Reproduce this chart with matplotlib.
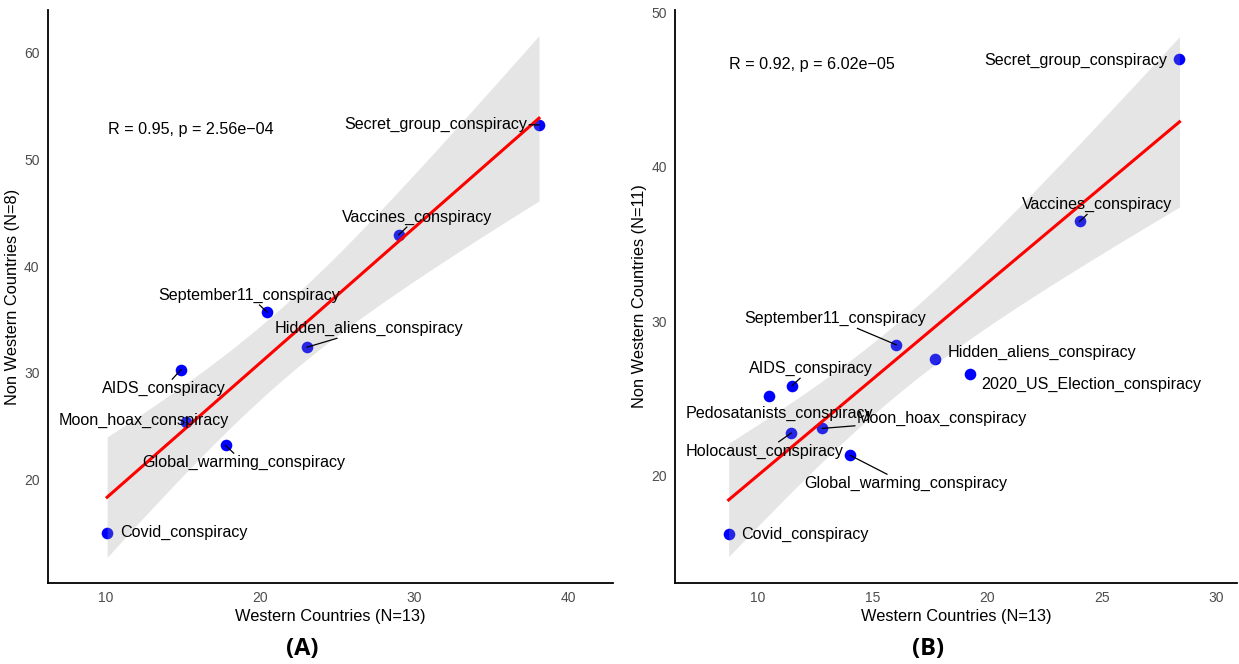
import matplotlib
matplotlib.use('Agg')
import matplotlib.pyplot as plt
import numpy as np

plt.rcParams['font.family'] = ['Liberation Sans', 'DejaVu Sans']

# Panel A data: Western (N=13) vs Non Western (N=8)
names_a = ['Secret_group_conspiracy', 'Vaccines_conspiracy', 'September11_conspiracy',
           'Hidden_aliens_conspiracy', 'AIDS_conspiracy', 'Moon_hoax_conspiracy',
           'Global_warming_conspiracy', 'Covid_conspiracy']
west_a = [38.1, 29.0, 20.45, 23.05, 14.87, 15.2, 17.76, 10.07]
nonwest_a = [53.25, 42.94, 35.7, 32.4, 30.3, 25.35, 23.2, 15.0]
stat_a = 'R = 0.95, p = 2.56e\u221204'

# Panel B data: Western (N=13) vs Non Western (N=11)
names_b = ['Secret_group_conspiracy', 'Vaccines_conspiracy', 'September11_conspiracy',
           'Hidden_aliens_conspiracy', '2020_US_Election_conspiracy', 'AIDS_conspiracy',
           'Pedosatanists_conspiracy', 'Holocaust_conspiracy', 'Moon_hoax_conspiracy',
           'Global_warming_conspiracy', 'Covid_conspiracy']
west_b = [28.39, 24.03, 16.03, 17.74, 19.26, 11.48, 10.49, 11.45, 12.81, 14.03, 8.72]
nonwest_b = [47.0, 36.46, 28.47, 27.56, 26.57, 25.81, 25.18, 22.75, 23.05, 21.3, 16.22]
stat_b = 'R = 0.92, p = 6.02e\u221205'

# label layout (repel positions) and whether a segment is drawn
lab_a = [(31.4, 53.3), (30.17, 44.56), (19.29, 37.25), (27.08, 34.13), (13.73, 28.5),
         (12.47, 25.54), (18.92, 21.56), (15.03, 15.0)]
seg_a = [True, True, True, True, True, False, True, False]
lab_b = [(23.86, 46.93), (24.8, 37.54), (13.35, 30.15), (22.37, 28.0), (24.55, 25.88),
         (12.29, 26.92), (10.93, 24.04), (10.31, 21.56), (18.03, 23.67), (16.44, 19.46),
         (12.03, 16.16)]
seg_b = [False, True, True, False, False, True, False, True, True, True, False]

# two-sided 95% t quantiles
t95 = {6: 2.4469, 9: 2.2622}


def panel(ax, names, x, y, labs, stat, stat_pos, ylabel, xlim, ylim, xticks, yticks):
    x = np.array(x)
    y = np.array(y)
    n = len(x)
    ax.scatter(x, y, s=70, color='#0000FF', zorder=2, linewidths=0)

    slope, icpt = np.polyfit(x, y, 1)
    xs = np.linspace(x.min(), x.max(), 80)
    fit = icpt + slope * xs
    resid = y - (icpt + slope * x)
    s = np.sqrt(np.sum(resid ** 2) / (n - 2))
    sxx = np.sum((x - x.mean()) ** 2)
    se = s * np.sqrt(1 / n + (xs - x.mean()) ** 2 / sxx)
    ax.fill_between(xs, fit - t95[n - 2] * se, fit + t95[n - 2] * se,
                    color='#999999', alpha=0.25, linewidth=0, zorder=3)
    ax.plot(xs, fit, color='#FF0000', lw=2.2, zorder=4)

    texts = []
    for name, (lx, ly) in zip(names, labs):
        texts.append(ax.text(lx, ly, name, ha='center', va='center', fontsize=11.6, zorder=6))
    ax.text(stat_pos[0], stat_pos[1], stat, ha='left', va='center', fontsize=11.6)

    ax.set_xlim(*xlim)
    ax.set_ylim(*ylim)
    ax.set_xticks(xticks)
    ax.set_yticks(yticks)
    ax.tick_params(length=0, labelsize=10, colors='#4D4D4D', pad=6)
    for sp in ['top', 'right']:
        ax.spines[sp].set_visible(False)
    for sp in ['left', 'bottom']:
        ax.spines[sp].set_linewidth(1.3)
    ax.set_xlabel('Western Countries (N=13)', fontsize=11.8, labelpad=3)
    ax.set_ylabel(ylabel, fontsize=11.8, labelpad=3)
    return texts


fig = plt.figure(figsize=(12.39, 6.64), dpi=100)
ax1 = fig.add_axes([0.0387, 0.122, 0.456, 0.863])
ax2 = fig.add_axes([0.5448, 0.122, 0.4536, 0.863])

t1 = panel(ax1, names_a, west_a, nonwest_a, lab_a, stat_a, (10.13, 52.8),
           'Non Western Countries (N=8)', (6.23, 42.9), (10.28, 64.03),
           [10, 20, 30, 40], [20, 30, 40, 50, 60])
t2 = panel(ax2, names_b, west_b, nonwest_b, lab_b, stat_b, (8.74, 46.61),
           'Non Western Countries (N=11)', (6.38, 30.9), (13.03, 50.17),
           [10, 15, 20, 25, 30], [20, 30, 40, 50])

# segments: where the line from label centre to point leaves the (padded) label box
fig.canvas.draw()
renderer = fig.canvas.get_renderer()
for ax, texts, xs, ys, segs in [(ax1, t1, west_a, nonwest_a, seg_a),
                                (ax2, t2, west_b, nonwest_b, seg_b)]:
    inv = ax.transData.inverted()
    for txt, px, py, flag in zip(texts, xs, ys, segs):
        if not flag:
            continue
        bb = txt.get_window_extent(renderer)
        cx, cy = (bb.x0 + bb.x1) / 2, (bb.y0 + bb.y1) / 2
        p = ax.transData.transform((px, py))
        dx, dy = p[0] - cx, p[1] - cy
        hw, hh = bb.width / 2 + 2, bb.height / 2 + 2
        tx = hw / abs(dx) if dx != 0 else np.inf
        ty = hh / abs(dy) if dy != 0 else np.inf
        t = min(tx, ty)
        if t >= 1:
            continue
        start = inv.transform((cx + dx * t, cy + dy * t))
        ax.plot([start[0], px], [start[1], py], color='black', lw=0.9, zorder=5)

fig.text(0.244, 0.022, '(A)', ha='center', va='center', fontsize=17, fontweight='bold',
         family=['Open Sans', 'DejaVu Sans'])
fig.text(0.749, 0.022, '(B)', ha='center', va='center', fontsize=17, fontweight='bold',
         family=['Open Sans', 'DejaVu Sans'])

fig.savefig('out.png', dpi=100)
